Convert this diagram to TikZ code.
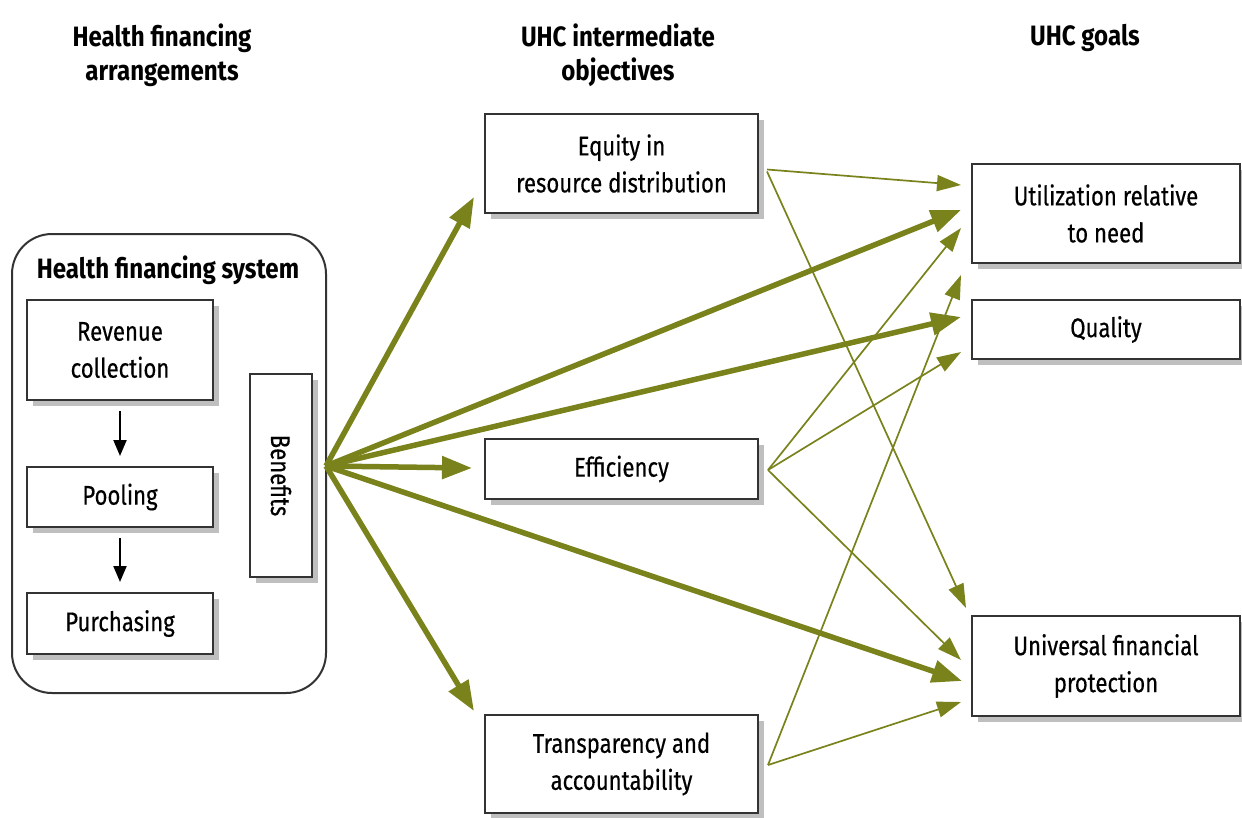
\documentclass[tikz,border=0pt]{standalone}
\usepackage{fontspec}
\setmainfont{Fira Sans}[FakeStretch=0.82,UprightFeatures={FakeBold=0.4},BoldFeatures={FakeStretch=0.86}]
\usetikzlibrary{arrows.meta,calc,shadows}
\definecolor{uhcgreen}{RGB}{122,130,28}

\begin{document}
\begin{tikzpicture}[x=1pt,y=-1pt,
    box/.style={draw=black!80,line width=2pt,fill=white,inner sep=0pt,align=center,
      font=\fontsize{27}{37}\selectfont,
      drop shadow={shadow xshift=6pt,shadow yshift=-6pt,fill=black!25,opacity=1}},
    head/.style={align=center,font=\bfseries\fontsize{28}{34}\selectfont},
    flow/.style={draw=black,line width=2pt,-{Triangle[length=16pt,width=13pt]}},
    fat/.style={draw=uhcgreen,line width=5.5pt,-{Triangle[length=30pt,width=22pt]}},
    slim/.style={draw=uhcgreen,line width=1.7pt,-{Triangle[length=24pt,width=16pt]}}]
\useasboundingbox (0,0) rectangle (1242,817);

% column headings
\node[head] (harr) at (162,55) {Health financing\\arrangements};
\node[head] (hobj) at (618,55) {UHC intermediate\\objectives};
\node[head] (hgoal) at (1085,38) {UHC goals};

% health financing system
\node[draw=black!80,line width=2pt,rounded corners=40pt,minimum width=314pt,minimum height=459pt] (hfs) at (169,463.5) {};
\node[head] (hfstitle) at (168,270) {Health financing system};
\node[box,minimum width=186pt,minimum height=100pt] (rev) at (120,350) {Revenue\\collection};
\node[box,minimum width=186pt,minimum height=60pt] (pool) at (120,497) {Pooling};
\node[box,minimum width=186pt,minimum height=61pt] (purch) at (120,623.5) {Purchasing};
\node[box,minimum width=62pt,minimum height=203pt] (ben) at (281,475.5) {};
\node[rotate=-90,font=\fontsize{27}{37}\selectfont] (bentext) at (ben.center) {Benefits};
\draw[flow] ([yshift=-10pt]rev.south) -- ([yshift=10pt]pool.north);
\draw[flow] ([yshift=-10pt]pool.south) -- ([yshift=10pt]purch.north);

% intermediate objectives
\node[box,minimum width=273pt,minimum height=99pt] (equity) at (621.5,163.5) {Equity in\\resource distribution};
\node[box,minimum width=273pt,minimum height=60pt] (effic) at (621.5,469) {Efficiency};
\node[box,minimum width=273pt,minimum height=98pt] (transp) at (621.5,764) {Transparency and\\accountability};

% goals
\node[box,minimum width=268pt,minimum height=99pt] (util) at (1106,213.5) {Utilization relative\\to need};
\node[box,minimum width=268pt,minimum height=59pt] (qual) at (1106,329.5) {Quality};
\node[box,minimum width=268pt,minimum height=100pt] (univ) at (1106,666) {Universal financial\\protection};

% thin links
\draw[slim] ($(equity.east)+(8,6)$) -- ($(util.west)+(-10,-28.5)$);
\draw[slim] ($(equity.east)+(8,8)$) -- ($(univ.west)+(-5,-58)$);
\draw[slim] ($(effic.east)+(9,1)$) -- ($(util.west)+(-10,14.5)$);
\draw[slim] ($(effic.east)+(9,1)$) -- ($(qual.west)+(-10,22.5)$);
\draw[slim] ($(effic.east)+(9,1)$) -- ($(univ.west)+(-10,-6)$);
\draw[slim] ($(transp.east)+(9,1)$) -- ($(qual.west)+(-10,-54.5)$);
\draw[slim] ($(transp.east)+(9,1)$) -- ($(univ.west)+(-10,36)$);

% thick links from the system
\coordinate (hub) at (326,466);
\draw[fat] (hub) -- ($(equity.west)+(-10,33.5)$);
\draw[fat] (hub) -- ($(util.west)+(-10,-3.5)$);
\draw[fat] (hub) -- ($(qual.west)+(-10,-12.5)$);
\draw[fat] (hub) -- ($(effic.west)+(-12,-1)$);
\draw[fat] (hub) -- ($(univ.west)+(-9,15)$);
\draw[fat] (hub) -- ($(transp.north west)+(-10,-3)$);
\end{tikzpicture}
\end{document}
